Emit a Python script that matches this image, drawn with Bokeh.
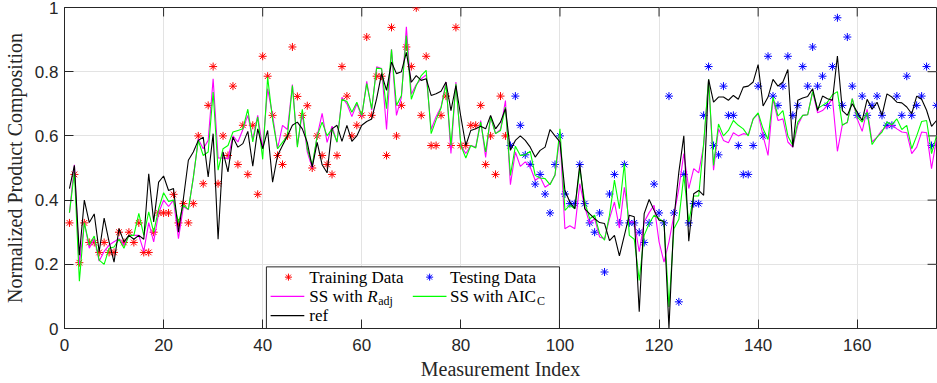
from bokeh.plotting import figure
from bokeh.models import Range1d, FixedTicker, CustomJSTickFormatter
from bokeh.core.properties import value
from bokeh.embed import file_html
from bokeh.resources import INLINE

# ---------------- data ----------------
idx = list(range(1, 177))
train_idx = list(range(1, 90))
test_idx = list(range(90, 177))

training = [0.329, 0.48, 0.205, 0.329, 0.268, 0.268, 0.237, 0.268, 0.237, 0.237,
            0.30, 0.268, 0.30, 0.268, 0.329, 0.237, 0.237, 0.30, 0.36, 0.36,
            0.36, 0.418, 0.329, 0.389, 0.329, 0.389, 0.60, 0.451, 0.695, 0.816,
            0.451, 0.60, 0.539, 0.755, 0.511, 0.633, 0.48, 0.633, 0.418, 0.848,
            0.786, 0.664, 0.539, 0.511, 0.60, 0.877, 0.723, 0.664, 0.694, 0.50,
            0.60, 0.539, 0.511, 0.48, 0.539, 0.816, 0.724, 0.60, 0.633, 0.664,
            0.908, 0.664, 0.786, 0.786, 0.539, 0.938, 0.60, 0.695, 0.877, 0.816,
            0.999, 0.664, 0.848, 0.57, 0.57, 0.664, 0.724, 0.57, 0.938, 0.57,
            0.57, 0.633, 0.633, 0.695, 0.511, 0.60, 0.48, 0.724, 0.60]

testing = [0.57, 0.724, 0.633, 0.541, 0.511, 0.45, 0.48, 0.419, 0.36, 0.511,
           0.60, 0.419, 0.389, 0.389, 0.511, 0.389, 0.329, 0.30, 0.36, 0.176,
           0.419, 0.48, 0.329, 0.511, 0.329, 0.329, 0.30, 0.268, 0.329, 0.45,
           0.36, 0.329, 0.724, 0.36, 0.083, 0.48, 0.329, 0.389, 0.389, 0.664,
           0.816, 0.57, 0.541, 0.755, 0.664, 0.664, 0.57, 0.48, 0.48, 0.57,
           0.755, 0.60, 0.848, 0.724, 0.695, 0.755, 0.848, 0.664, 0.695, 0.816,
           0.755, 0.877, 0.755, 0.786, 0.695, 0.816, 0.968, 0.695, 0.908, 0.755,
           0.664, 0.724, 0.664, 0.695, 0.724, 0.664, 0.633, 0.633, 0.724, 0.664,
           0.786, 0.664, 0.695, 0.724, 0.816, 0.57, 0.695]

ss_radj = [0.36, 0.51, 0.20, 0.33, 0.25, 0.28, 0.21, 0.24, 0.26, 0.27,
           0.28, 0.26, 0.29, 0.29, 0.29, 0.24, 0.33, 0.27, 0.36, 0.40,
           0.38, 0.40, 0.28, 0.38, 0.37, 0.47, 0.59, 0.56, 0.586, 0.778,
           0.531, 0.531, 0.529, 0.60, 0.581, 0.62, 0.664, 0.59, 0.664, 0.56,
           0.747, 0.664, 0.56, 0.633, 0.62, 0.76, 0.57, 0.67, 0.55, 0.50,
           0.60, 0.67, 0.58, 0.63, 0.58, 0.72, 0.70, 0.66, 0.70, 0.66,
           0.77, 0.68, 0.815, 0.81, 0.62, 0.87, 0.664, 0.72, 0.94, 0.73,
           0.76, 0.778, 0.79, 0.62, 0.66, 0.69, 0.768, 0.545, 0.768, 0.57,
           0.545, 0.57, 0.565, 0.648, 0.533, 0.66, 0.607, 0.62, 0.71, 0.448,
           0.55, 0.505, 0.519, 0.503, 0.462, 0.472, 0.44, 0.451, 0.477, 0.60,
           0.311, 0.32, 0.311, 0.451, 0.379, 0.327, 0.342, 0.285, 0.28, 0.342,
           0.394, 0.313, 0.44, 0.332, 0.332, 0.239, 0.332, 0.361, 0.384, 0.27,
           0.207, 0.27, 0.353, 0.436, 0.545, 0.436, 0.498, 0.485, 0.57, 0.776,
           0.493, 0.622, 0.586, 0.579, 0.61, 0.60, 0.607, 0.604, 0.653, 0.669,
           0.60, 0.539, 0.716, 0.648, 0.653, 0.581, 0.565, 0.633, 0.664, 0.666,
           0.738, 0.672, 0.679, 0.695, 0.716, 0.552, 0.635, 0.641, 0.716, 0.653,
           0.614, 0.683, 0.581, 0.596, 0.618, 0.628, 0.635, 0.622, 0.612, 0.61,
           0.545, 0.565, 0.612, 0.61, 0.498, 0.591]

ss_aicc = [0.361, 0.488, 0.147, 0.33, 0.26, 0.288, 0.213, 0.20, 0.25, 0.254,
           0.278, 0.25, 0.29, 0.29, 0.359, 0.29, 0.363, 0.30, 0.373, 0.423,
           0.396, 0.40, 0.33, 0.384, 0.371, 0.47, 0.586, 0.539, 0.55, 0.737,
           0.493, 0.56, 0.57, 0.612, 0.617, 0.622, 0.683, 0.581, 0.659, 0.527,
           0.783, 0.65, 0.56, 0.58, 0.60, 0.757, 0.565, 0.683, 0.56, 0.508,
           0.60, 0.643, 0.60, 0.622, 0.581, 0.714, 0.707, 0.674, 0.705, 0.664,
           0.763, 0.685, 0.811, 0.809, 0.685, 0.869, 0.695, 0.726, 0.913, 0.714,
           0.757, 0.788, 0.804, 0.607, 0.65, 0.687, 0.76, 0.57, 0.762, 0.57,
           0.531, 0.57, 0.562, 0.643, 0.55, 0.659, 0.607, 0.617, 0.69, 0.477,
           0.568, 0.539, 0.541, 0.552, 0.477, 0.469, 0.467, 0.448, 0.479, 0.622,
           0.368, 0.384, 0.373, 0.498, 0.394, 0.342, 0.353, 0.296, 0.275, 0.353,
           0.462, 0.373, 0.514, 0.29, 0.278, 0.15, 0.29, 0.327, 0.353, 0.342,
           0.332, 0.067, 0.311, 0.34, 0.477, 0.332, 0.413, 0.413, 0.576, 0.776,
           0.508, 0.637, 0.60, 0.617, 0.648, 0.633, 0.622, 0.60, 0.653, 0.672,
           0.622, 0.589, 0.721, 0.662, 0.679, 0.60, 0.57, 0.643, 0.664, 0.666,
           0.738, 0.685, 0.695, 0.705, 0.728, 0.738, 0.633, 0.643, 0.716, 0.659,
           0.643, 0.674, 0.573, 0.596, 0.612, 0.643, 0.635, 0.653, 0.62, 0.633,
           0.56, 0.60, 0.645, 0.648, 0.545, 0.60]

ref = [0.436, 0.508, 0.228, 0.40, 0.33, 0.357, 0.239, 0.344, 0.27, 0.207,
       0.311, 0.27, 0.29, 0.278, 0.29, 0.278, 0.482, 0.332, 0.456, 0.475,
       0.43, 0.436, 0.30, 0.405, 0.524, 0.55, 0.586, 0.596, 0.472, 0.607,
       0.278, 0.55, 0.488, 0.596, 0.565, 0.576, 0.614, 0.506, 0.622, 0.56,
       0.617, 0.456, 0.539, 0.57, 0.60, 0.633, 0.643, 0.622, 0.58, 0.503,
       0.58, 0.51, 0.485, 0.622, 0.633, 0.583, 0.633, 0.583, 0.60, 0.633,
       0.645, 0.653, 0.716, 0.794, 0.742, 0.83, 0.794, 0.80, 0.86, 0.767,
       0.788, 0.773, 0.778, 0.726, 0.731, 0.739, 0.768, 0.679, 0.757, 0.659,
       0.57, 0.617, 0.622, 0.63, 0.622, 0.664, 0.622, 0.643, 0.685, 0.555,
       0.586, 0.60, 0.586, 0.565, 0.534, 0.555, 0.565, 0.62, 0.60, 0.581,
       0.43, 0.394, 0.373, 0.511, 0.373, 0.357, 0.342, 0.33, 0.327, 0.274,
       0.29, 0.226, 0.29, 0.353, 0.348, 0.052, 0.358, 0.402, 0.368, 0.337,
       0.334, 0.002, 0.342, 0.488, 0.60, 0.272, 0.42, 0.43, 0.415, 0.776,
       0.705, 0.721, 0.721, 0.711, 0.726, 0.714, 0.752, 0.755, 0.768, 0.822,
       0.693, 0.721, 0.776, 0.755, 0.768, 0.807, 0.565, 0.711, 0.718, 0.723,
       0.747, 0.679, 0.724, 0.716, 0.711, 0.849, 0.679, 0.664, 0.70, 0.674,
       0.648, 0.714, 0.683, 0.705, 0.664, 0.731, 0.721, 0.705, 0.703, 0.69,
       0.669, 0.724, 0.714, 0.68, 0.63, 0.648]

x_ticks = [0, 20, 40, 60, 80, 100, 120, 140, 160]
y_ticks = [0, 0.2, 0.4, 0.6, 0.8, 1.0]

x_label = "Measurement Index"
y_label = "Normalized Product Composition"

# ---------------- styles ----------------
AX = "#262626"
GRID = "#e3e3e3"
SERIF = "Liberation Serif"
SANS = "Liberation Sans"
X0, X1, Y0, Y1 = 0, 176, 0, 1

p = figure(width=937, height=383, output_backend="svg", toolbar_location=None,
           x_range=Range1d(X0, X1), y_range=Range1d(Y0, Y1),
           min_border_left=63, min_border_right=1, min_border_top=7,
           min_border_bottom=55)
p.background_fill_color = "white"
p.border_fill_color = "white"
p.outline_line_color = AX
p.outline_line_width = 1

for ax, ticks in ((p.xaxis[0], x_ticks), (p.yaxis[0], y_ticks)):
    ax.ticker = FixedTicker(ticks=ticks)
    ax.axis_line_color = AX
    ax.major_tick_line_color = AX
    ax.major_tick_in = 9
    ax.major_tick_out = 0
    ax.minor_tick_line_color = None
    ax.major_label_text_font = SANS
    ax.major_label_text_font_size = "17px"
    ax.major_label_text_color = AX
    ax.axis_label_text_font = SERIF
    ax.axis_label_text_font_style = "normal"
    ax.axis_label_text_font_size = "20px"
    ax.axis_label_text_color = AX

p.xaxis.axis_label = x_label
p.yaxis.axis_label = y_label
p.xaxis.major_label_standoff = 10
p.xaxis.axis_label_standoff = 4
p.yaxis.major_label_standoff = 6
p.yaxis.axis_label_standoff = 6
p.yaxis.formatter = CustomJSTickFormatter(code="return String(Math.round(tick*10)/10);")

p.xgrid.ticker = FixedTicker(ticks=x_ticks)
p.ygrid.ticker = FixedTicker(ticks=y_ticks)
p.xgrid.grid_line_color = GRID
p.ygrid.grid_line_color = GRID

# inward ticks on the top and right edges of the box (from the tick lists)
TICK_LEN_Y = 0.028
TICK_LEN_X = 1.8
p.segment(x0=x_ticks, y0=[Y1] * len(x_ticks), x1=x_ticks, y1=[Y1 - TICK_LEN_Y] * len(x_ticks),
          line_color=AX, line_width=1)
p.segment(x0=[X1] * len(y_ticks), y0=y_ticks, x1=[X1 - TICK_LEN_X] * len(y_ticks), y1=y_ticks,
          line_color=AX, line_width=1)

# ---------------- data marks ----------------
p.scatter(train_idx, training, marker="asterisk", size=8, line_color="#ff0000", line_width=1)
p.scatter(test_idx, testing, marker="asterisk", size=8, line_color="#0000ff", line_width=1)
p.line(idx, ss_radj, line_color="#ff00ff", line_width=1.1)
p.line(idx, ss_aicc, line_color="#00ff00", line_width=1.1)
p.line(idx, ref, line_color="#000000", line_width=1.1)

# ---------------- legend (drawn manually) ----------------
LG_L, LG_R, LG_B, LG_T = 40.75, 99.9, -0.01, 0.192
ROWS = [0.160, 0.100, 0.040]
C1_MARK, C1_L0, C1_L1, C1_TXT = 45.2, 41.6, 48.4, 49.4
C2_MARK, C2_L0, C2_L1, C2_TXT = 73.7, 70.3, 77.1, 77.8

p.quad(left=[LG_L], right=[LG_R], bottom=[LG_B], top=[LG_T],
       fill_color="white", line_color=AX, line_width=1)

p.scatter([C1_MARK], [ROWS[0]], marker="asterisk", size=7, line_color="#ff0000")
p.scatter([C2_MARK], [ROWS[0]], marker="asterisk", size=7, line_color="#0000ff")
p.segment([C1_L0, C2_L0, C1_L0], [ROWS[1], ROWS[1], ROWS[2]],
          [C1_L1, C2_L1, C1_L1], [ROWS[1], ROWS[1], ROWS[2]],
          line_color=["#ff00ff", "#00ff00", "#000000"], line_width=1.1)

txt = dict(text_font=value(SERIF), text_font_size="17px", text_baseline="middle",
           text_align="left", text_color="black")
p.text([C1_TXT, C2_TXT, C1_TXT, C2_TXT, C1_TXT],
       [ROWS[0], ROWS[0], ROWS[1], ROWS[1], ROWS[2]],
       text=["Training Data", "Testing Data", "SS with ", "SS with AIC", "ref"], **txt)
p.text([C1_TXT], [ROWS[1]], text=["R"], x_offset=58, text_font_style="italic", **txt)
sub = dict(txt, text_font_size="12px")
p.text([C1_TXT, C2_TXT], [ROWS[1], ROWS[1]], text=["adj", "C"],
       x_offset=[69, 87], y_offset=5, **sub)

open("out.html", "w").write(file_html(p, INLINE))
